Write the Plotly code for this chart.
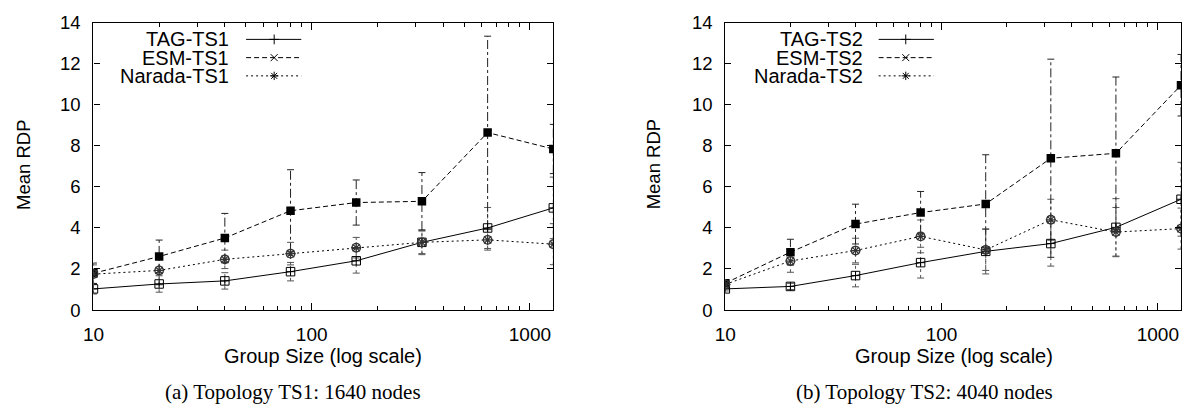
import plotly.graph_objects as go

# The photographed page keeps an 8px body margin and is fitted back to
# 1182x412, so reference pixel positions are converted to figure pixels.
W, H = 1182, 412
OFF = 8
SX = W / (W + 2 * OFF)
SY = H / (H + 2 * OFF)

# ---------------- data ----------------
group_sizes = [10, 20, 40, 80, 160, 320, 640, 1280]

tag_ts1 = [1.03, 1.27, 1.42, 1.87, 2.40, 3.30, 4.00, 4.98]
esm_ts1 = [1.79, 2.61, 3.51, 4.84, 5.24, 5.30, 8.65, 7.85]
nar_ts1 = [1.75, 1.93, 2.47, 2.75, 3.04, 3.30, 3.42, 3.21]
tag_ts1_err = [0.25, 0.40, 0.40, 0.45, 0.60, 0.55, 1.00, 1.50]
esm_ts1_err = [0.50, 0.80, 1.20, 2.00, 1.10, 1.40, 4.70, 1.20]
nar_ts1_err = [0.45, 0.70, 0.45, 0.55, 0.50, 0.60, 0.50, 1.00]

tag_ts2 = [1.03, 1.15, 1.68, 2.31, 2.86, 3.24, 4.03, 5.40]
esm_ts2 = [1.31, 2.82, 4.19, 4.75, 5.17, 7.40, 7.64, 10.96]
nar_ts2 = [1.25, 2.39, 2.90, 3.59, 2.93, 4.40, 3.80, 3.97]
tag_ts2_err = [0.10, 0.15, 0.55, 0.75, 1.10, 1.10, 1.40, 1.80]
esm_ts2_err = [0.10, 0.63, 0.97, 1.03, 2.40, 4.83, 3.72, 1.50]
nar_ts2_err = [0.10, 0.55, 0.60, 0.80, 1.00, 1.00, 1.20, 1.00]

y_ticks = [0, 2, 4, 6, 8, 10, 12, 14]
x_ticks = [10, 100, 1000]

legend_ts1 = ["TAG-TS1", "ESM-TS1", "Narada-TS1"]
legend_ts2 = ["TAG-TS2", "ESM-TS2", "Narada-TS2"]
captions = ["(a) Topology TS1: 1640 nodes", "(b) Topology TS2: 4040 nodes"]
x_title = "Group Size (log scale)"
y_title = "Mean RDP"

# ---------------- styles ----------------
SANS = "Liberation Sans, Arial, Helvetica, sans-serif"
SERIF = "Liberation Serif, Times New Roman, serif"
DASH_ESM = "5px,3px"
DASH_NAR = "2px,3px"

fig = go.Figure()


def fx(X):
    return X / SX - OFF


def fy(Y):
    return Y / SY - OFF


def paper_x(xf):
    return xf / W


def paper_y(yf):
    return 1 - yf / H


def add_errbars(xa, ya, xs, ys, es, dash, color):
    bx, by = [], []
    for x, y, e in zip(xs, ys, es):
        bx += [x, x, None]
        by += [y - e, y + e, None]
    fig.add_trace(go.Scatter(x=bx, y=by, mode="lines", xaxis=xa, yaxis=ya,
                             line=dict(color=color, width=1, dash=dash),
                             showlegend=False, hoverinfo="skip"))
    cx, cy = [], []
    for x, y, e in zip(xs, ys, es):
        cx += [x, x]
        cy += [y - e, y + e]
    fig.add_trace(go.Scatter(x=cx, y=cy, mode="markers", xaxis=xa, yaxis=ya,
                             marker=dict(symbol="line-ew-open", size=5, color=color,
                                         line=dict(color=color, width=1)),
                             showlegend=False, hoverinfo="skip"))


def add_panel(xa, ya, tag, esm, nar, tag_e, esm_e, nar_e):
    add_errbars(xa, ya, group_sizes, tag, tag_e, "dot", "#555")
    add_errbars(xa, ya, group_sizes, nar, nar_e, "dot", "#555")
    add_errbars(xa, ya, group_sizes, esm, esm_e, "dashdot", "#222")
    fig.add_trace(go.Scatter(x=group_sizes, y=tag, mode="lines+markers", xaxis=xa, yaxis=ya,
                             line=dict(color="black", width=1),
                             marker=dict(symbol="square-cross-open", size=8.5,
                                         color="black", line=dict(color="black", width=1)),
                             showlegend=False))
    fig.add_trace(go.Scatter(x=group_sizes, y=esm, mode="lines+markers", xaxis=xa, yaxis=ya,
                             line=dict(color="black", width=1, dash=DASH_ESM),
                             marker=dict(symbol="square", size=8.5, color="black"),
                             showlegend=False))
    fig.add_trace(go.Scatter(x=group_sizes, y=nar, mode="lines+markers", xaxis=xa, yaxis=ya,
                             line=dict(color="black", width=1, dash=DASH_NAR),
                             marker=dict(symbol="circle-open", size=8.5,
                                         color="#333", line=dict(color="#333", width=1.3)),
                             showlegend=False))
    fig.add_trace(go.Scatter(x=group_sizes, y=nar, mode="markers", xaxis=xa, yaxis=ya,
                             marker=dict(symbol="asterisk-open", size=8.5,
                                         color="#333", line=dict(color="#333", width=1.2)),
                             showlegend=False))


add_panel("x", "y", tag_ts1, esm_ts1, nar_ts1, tag_ts1_err, esm_ts1_err, nar_ts1_err)
add_panel("x2", "y2", tag_ts2, esm_ts2, nar_ts2, tag_ts2_err, esm_ts2_err, nar_ts2_err)

# ---------------- legends (overlay axis in figure pixels) ----------------
leg_rows = [fy(36.5), fy(55), fy(73.5)]
leg_dash = ["solid", DASH_ESM, DASH_NAR]
leg_sym = ["cross-thin-open", "x-thin-open", "asterisk-open"]
annotations = []
for names, text_r, l0, l1, mx in [(legend_ts1, fx(227), fx(242), fx(297), fx(270)),
                                 (legend_ts2, fx(858), fx(872), fx(927), fx(899))]:
    for name, yy, dsh, sym in zip(names, leg_rows, leg_dash, leg_sym):
        fig.add_trace(go.Scatter(x=[l0, l1], y=[yy, yy], mode="lines", xaxis="x3", yaxis="y3",
                                 line=dict(color="black", width=1, dash=dsh),
                                 showlegend=False, hoverinfo="skip"))
        fig.add_trace(go.Scatter(x=[mx], y=[yy], mode="markers", xaxis="x3", yaxis="y3",
                                 marker=dict(symbol=sym, size=7, color="black",
                                             line=dict(color="black", width=1)),
                                 showlegend=False, hoverinfo="skip"))
        annotations.append(dict(text=name, x=paper_x(text_r), y=paper_y(yy), xref="paper", yref="paper",
                                xanchor="right", yanchor="middle", showarrow=False,
                                font=dict(family=SANS, size=20, color="black")))

# axis titles and captions
for cx, xt_cx, cap_cx, ytx in [(0, fx(318.5), fx(289), 12.5), (1, fx(947), fx(918), fx(648))]:
    annotations.append(dict(text=x_title, x=paper_x(xt_cx), y=paper_y(fy(358)), xref="paper", yref="paper",
                            xanchor="center", yanchor="middle", showarrow=False,
                            font=dict(family=SANS, size=20, color="black")))
    annotations.append(dict(text=y_title, x=paper_x(ytx), y=paper_y(fy(163.5)), xref="paper", yref="paper",
                            xanchor="center", yanchor="middle", showarrow=False, textangle=-90,
                            font=dict(family=SANS, size=18.5, color="black")))
    annotations.append(dict(text=captions[cx], x=paper_x(cap_cx), y=paper_y(401.5), xref="paper", yref="paper",
                            xanchor="center", yanchor="middle", showarrow=False,
                            font=dict(family=SERIF, size=21, color="black")))

y_dom = [paper_y(fy(311)), paper_y(12.5)]
xaxis_common = dict(type="log", range=[1, 3.10721], tickvals=x_ticks, ticktext=[str(v) for v in x_ticks],
                    ticks="inside", ticklen=7, tickcolor="black", tickwidth=1,
                    minor=dict(ticks="inside", ticklen=4, tickcolor="black", dtick="D1", showgrid=False),
                    showline=True, linecolor="black", linewidth=1.2, mirror="allticks",
                    showgrid=False, zeroline=False,
                    tickfont=dict(family=SANS, size=19, color="black"), ticklabelstandoff=7)
yaxis_common = dict(range=[0, 14], tickvals=y_ticks, ticks="inside", ticklen=6, tickcolor="black",
                    tickwidth=1, showline=True, linecolor="black", linewidth=1.2, mirror="allticks",
                    showgrid=False, zeroline=False,
                    tickfont=dict(family=SANS, size=18.5, color="black"), ticklabelstandoff=8)

fig.update_layout(
    width=W, height=H, autosize=False,
    margin=dict(l=0, r=0, t=0, b=0),
    paper_bgcolor="white", plot_bgcolor="rgba(0,0,0,0)",
    showlegend=False,
    xaxis=dict(domain=[paper_x(fx(90)), paper_x(fx(548))], anchor="y", **xaxis_common),
    yaxis=dict(domain=y_dom, anchor="x", **yaxis_common),
    xaxis2=dict(domain=[paper_x(fx(719.3)), paper_x(W - 1)], anchor="y2", **xaxis_common),
    yaxis2=dict(domain=y_dom, anchor="x2", **yaxis_common),
    xaxis3=dict(domain=[0, 1], range=[0, W], visible=False, anchor="y3", fixedrange=True),
    yaxis3=dict(domain=[0, 1], range=[H, 0], visible=False, anchor="x3", fixedrange=True),
    annotations=annotations,
)

fig.write_html("out.html")
